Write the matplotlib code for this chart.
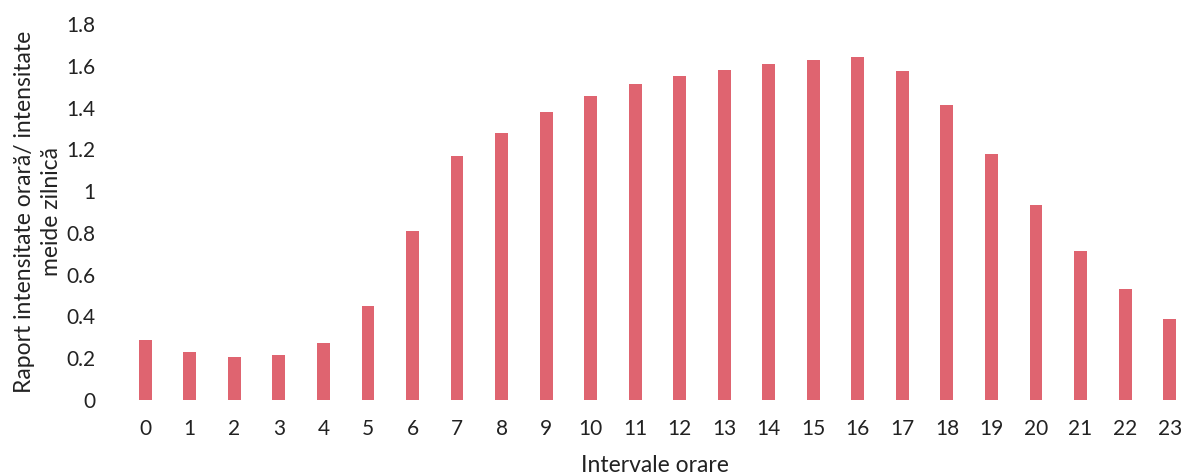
import numpy as np
import matplotlib.pyplot as plt

# ore 0..23 si raportul intensitate orara / intensitate medie zilnica
ore = np.arange(24)
raport = np.array([0.285, 0.23, 0.206, 0.215, 0.275, 0.45, 0.81, 1.166,
                   1.277, 1.38, 1.456, 1.512, 1.553, 1.58, 1.607, 1.626,
                   1.642, 1.577, 1.41, 1.18, 0.934, 0.712, 0.532, 0.39])
yticks = [0, 0.2, 0.4, 0.6, 0.8, 1.0, 1.2, 1.4, 1.6, 1.8]
ytick_labels = ["0", "0.2", "0.4", "0.6", "0.8", "1", "1.2", "1.4", "1.6", "1.8"]

plt.rcParams['font.family'] = ['Lato', 'DejaVu Sans']

fig = plt.figure(figsize=(11.83, 4.75), dpi=100)
ax = fig.add_axes([123 / 1183, 75 / 475, 1060 / 1183, 376 / 475])

ax.bar(ore, raport, width=0.29, color='#df6470')

ax.set_xlim(-0.5, 23.3)
ax.set_ylim(0, 1.8)
ax.set_xticks(ore)
ax.set_xticklabels([str(h) for h in ore], fontsize=15, color='#222222')
ax.set_yticks(yticks)
ax.set_yticklabels(ytick_labels, fontsize=15, color='#222222')
ax.tick_params(axis='both', length=0)
ax.tick_params(axis='x', pad=14)
ax.tick_params(axis='y', pad=20)

for s in ax.spines.values():
    s.set_visible(False)

ax.set_xlabel("Intervale orare", fontsize=16.5, color='#222222')
ax.xaxis.set_label_coords(0.502, -0.147)
ax.set_ylabel("Raport intensitate orară/ intensitate\nmeide zilnică", fontsize=16.5,
              color='#222222', linespacing=1.3)
ax.yaxis.set_label_coords(-0.058, 0.5)

fig.savefig("out.png", dpi=100)
